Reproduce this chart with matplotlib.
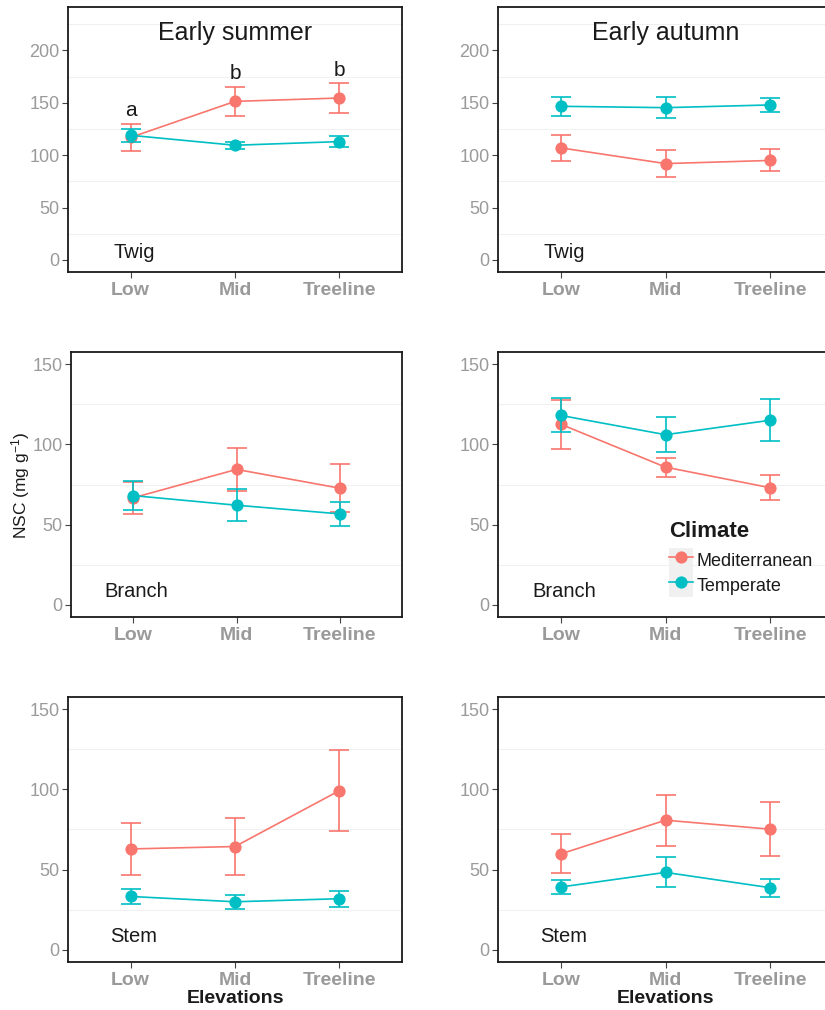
import matplotlib
matplotlib.use("Agg")
import matplotlib.pyplot as plt
from matplotlib.legend_handler import HandlerTuple
from matplotlib.lines import Line2D
from matplotlib.patches import Rectangle

plt.rcParams["font.family"] = ["Liberation Sans", "DejaVu Sans"]
plt.rcParams["mathtext.default"] = "regular"

MED_COLOR = "#F8766D"
TEMP_COLOR = "#00BFC4"
TICK_GREY = "#9a9a9a"

ELEVATIONS = ["Low", "Mid", "Treeline"]
CLIMATES = ["Mediterranean", "Temperate"]

# NSC means and standard errors (mg g-1)
summer_twig_med = [117, 151.4, 154.6]
summer_twig_med_se = [13, 14, 14.5]
summer_twig_temp = [119, 109.5, 113]
summer_twig_temp_se = [6, 3.5, 5.3]

autumn_twig_med = [107, 92, 95]
autumn_twig_med_se = [12.2, 12.8, 10.5]
autumn_twig_temp = [146.7, 145.4, 148]
autumn_twig_temp_se = [9, 10, 6.8]

summer_branch_med = [66.7, 84.4, 72.7]
summer_branch_med_se = [10, 13.5, 14.9]
summer_branch_temp = [68.1, 62.1, 56.7]
summer_branch_temp_se = [9, 10, 7.5]

autumn_branch_med = [112.5, 85.8, 73]
autumn_branch_med_se = [15.3, 6, 7.7]
autumn_branch_temp = [118, 106, 115]
autumn_branch_temp_se = [10.6, 11, 13.2]

summer_stem_med = [62.9, 64.4, 99.2]
summer_stem_med_se = [16.1, 17.7, 25.4]
summer_stem_temp = [33.3, 30, 31.9]
summer_stem_temp_se = [4.7, 4.5, 5]

autumn_stem_med = [59.8, 80.8, 75.2]
autumn_stem_med_se = [12.1, 15.9, 16.9]
autumn_stem_temp = [39.2, 48.3, 38.75]
autumn_stem_temp_se = [4.6, 9.35, 5.65]

summer_twig_letters = ["a", "b", "b"]

W, H = 825, 1010


def px_axes(fig, x0, y0, x1, y1):
    return fig.add_axes([x0 / W, 1 - y1 / H, (x1 - x0) / W, (y1 - y0) / H])


def draw_panel(ax, med, med_se, temp, temp_se, organ, ylim, yticks, grid, organ_y,
               title=None, letters=None, xlabel=False):
    x = list(range(1, len(ELEVATIONS) + 1))
    for yy in grid:
        ax.axhline(yy, color="#f0f0f0", lw=0.7, zorder=0)
    for mean, se, color in [(med, med_se, MED_COLOR), (temp, temp_se, TEMP_COLOR)]:
        ax.errorbar(x, mean, yerr=se, fmt="none", ecolor=color, elinewidth=1.2,
                    capsize=7.2, capthick=1.2, zorder=3)
        ax.plot(x, mean, color=color, lw=1.2, marker="o", markersize=8.8,
                markeredgewidth=0, zorder=3)
    ax.set_xlim(0.4, 3.6)
    ax.set_ylim(*ylim)
    ax.set_yticks(yticks)
    ax.set_xticks(x, labels=ELEVATIONS)
    ax.tick_params(axis="y", labelsize=13, labelcolor=TICK_GREY, color="#444444",
                   length=4, width=0.8, pad=2)
    ax.tick_params(axis="x", labelsize=14, labelcolor=TICK_GREY, color="#444444",
                   length=4, width=0.8, pad=3)
    for lab in ax.get_xticklabels():
        lab.set_fontweight("bold")
    for sp in ax.spines.values():
        sp.set_linewidth(1.3)
        sp.set_color("#1a1a1a")
    ax.text(1.03, organ_y, organ, ha="center", va="baseline", fontsize=14.5, color="#1a1a1a")
    if title:
        ax.text(2, 210, title, ha="center", va="baseline", fontsize=18, color="#1a1a1a")
    if letters:
        for xi, m, s, let in zip(x, med, med_se, letters):
            ax.text(xi, m + s + 7, let, ha="center", va="baseline", fontsize=15, color="#1a1a1a")
    if xlabel:
        ax.set_xlabel("Elevations", fontsize=14, fontweight="bold", color="#1a1a1a", labelpad=1)


def main() -> None:
    fig = plt.figure(figsize=(W / 100, H / 100), dpi=100)
    fig.patch.set_facecolor("white")

    top_lim, low_lim = (-11.5, 241.5), (-7.5, 157.5)
    top_ticks, low_ticks = [0, 50, 100, 150, 200], [0, 50, 100, 150]
    top_grid, low_grid = [25, 75, 125, 175, 225], [25, 75, 125]

    ax = px_axes(fig, 68, 7, 402, 272)
    draw_panel(ax, summer_twig_med, summer_twig_med_se, summer_twig_temp, summer_twig_temp_se,
               "Twig", top_lim, top_ticks, top_grid, 2.2, title="Early summer",
               letters=summer_twig_letters)
    ax = px_axes(fig, 498, 7, 833, 272)
    draw_panel(ax, autumn_twig_med, autumn_twig_med_se, autumn_twig_temp, autumn_twig_temp_se,
               "Twig", top_lim, top_ticks, top_grid, 2.2, title="Early autumn")

    ax = px_axes(fig, 71, 352, 402, 617)
    draw_panel(ax, summer_branch_med, summer_branch_med_se, summer_branch_temp,
               summer_branch_temp_se, "Branch", low_lim, low_ticks, low_grid, 5)
    ax_leg = px_axes(fig, 498, 352, 833, 617)
    draw_panel(ax_leg, autumn_branch_med, autumn_branch_med_se, autumn_branch_temp,
               autumn_branch_temp_se, "Branch", low_lim, low_ticks, low_grid, 5)

    ax = px_axes(fig, 68, 697, 402, 962)
    draw_panel(ax, summer_stem_med, summer_stem_med_se, summer_stem_temp, summer_stem_temp_se,
               "Stem", low_lim, low_ticks, low_grid, 5, xlabel=True)
    ax = px_axes(fig, 498, 697, 833, 962)
    draw_panel(ax, autumn_stem_med, autumn_stem_med_se, autumn_stem_temp, autumn_stem_temp_se,
               "Stem", low_lim, low_ticks, low_grid, 5, xlabel=True)

    # legend with ggplot-style grey key boxes
    handles = []
    for color in [MED_COLOR, TEMP_COLOR]:
        box = Rectangle((0, 0), 1, 1, facecolor="#f0f0f0", edgecolor="none")
        line = Line2D([], [], color=color, lw=1.2, marker="o", markersize=8.8, markeredgewidth=0)
        handles.append((box, line))
    leg = ax_leg.legend(handles, CLIMATES, handler_map={tuple: HandlerTuple(ndivide=1, pad=0)},
                        title="Climate", loc="upper left", frameon=False,
                        bbox_to_anchor=(669 / W, 1 - 521 / H), bbox_transform=fig.transFigure,
                        fontsize=13, handlelength=1.33, handleheight=1.7, handletextpad=0.2,
                        labelspacing=0.0, borderpad=0, borderaxespad=0, alignment="left")
    leg._legend_box.sep = 4.5  # a bit of room under the title, like ggplot
    leg.get_title().set_fontsize(16)
    leg.get_title().set_fontweight("bold")
    leg.get_title().set_color("#1a1a1a")
    for t in leg.get_texts():
        t.set_color("#1a1a1a")

    fig.text(21 / W, 1 - 485 / H, "NSC (mg g$^{-1}$)", rotation=90, ha="center", va="center",
             fontsize=12.5, color="#1a1a1a")

    fig.savefig("out.png", dpi=100)
    plt.close(fig)


if __name__ == "__main__":
    main()
